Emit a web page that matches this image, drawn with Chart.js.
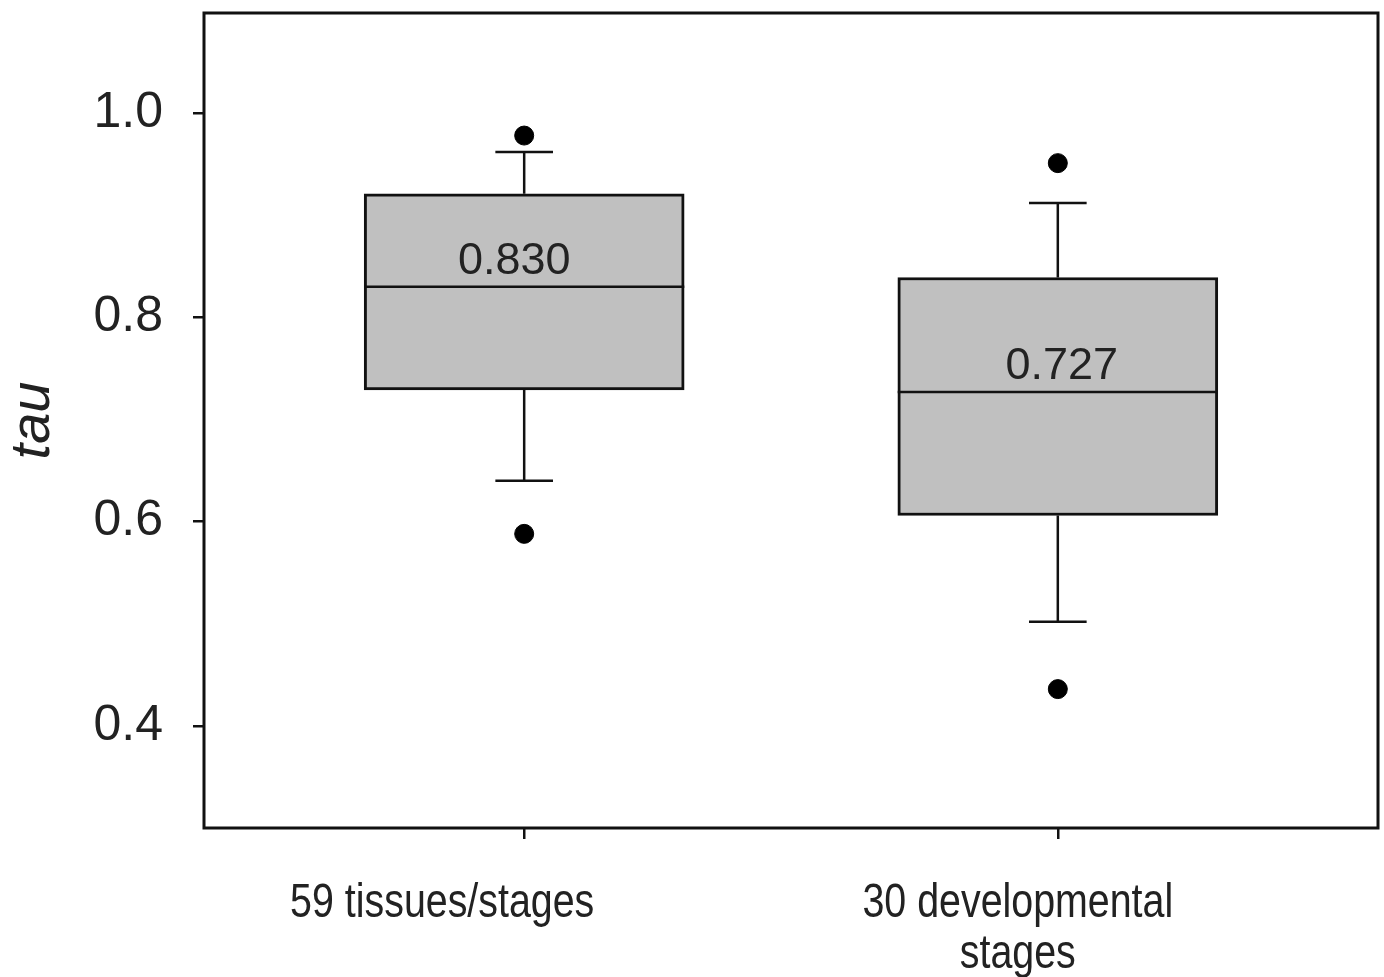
<!DOCTYPE html>
<html>
<head>
<meta charset="utf-8">
<script src="https://cdn.jsdelivr.net/npm/chart.js@4/dist/chart.umd.min.js"></script>
<style>
  html, body { margin: 0; padding: 0; background: #fff; }
  canvas { display: block; }
</style>
</head>
<body>
<canvas id="tauChart" width="1384" height="977"></canvas>
<script>
// ---- data ----
const categories = [['59 tissues/stages'], ['30 developmental', 'stages']];
const whiskerLow = [0.640, 0.502];
const q1 = [0.729, 0.606];
const medians = [0.830, 0.727];
const q3 = [0.921, 0.839];
const whiskerHigh = [0.962, 0.912];
const outliers = [[0.978, 0.588], [0.951, 0.436]];
const yTicks = [0.4, 0.6, 0.8, 1.0];

// ---- look ----
const INK = '#111';
const TEXT = '#222';
const BOX_FILL = '#c0c0c0';
const BOX_HALF = 0.3;     // half box width, x units
const CAP_HALF = 0.054;   // half whisker cap width, x units
const LABEL_SHIFT = [-82, -40];      // category labels sit left of their tick in the original
const MEDIAN_TEXT_SHIFT = [-10, 4];  // median value text is not quite centred either
const LABEL_SQUEEZE = 0.82;          // original category text is drawn narrow

const boxes = categories.map((_, i) => ({ x: i, y: [q1[i], q3[i]] }));

const whiskers = [];
categories.forEach((_, i) => {
  whiskers.push({ x: i, y: q3[i] }, { x: i, y: whiskerHigh[i] }, { x: i, y: null });
  whiskers.push({ x: i - CAP_HALF, y: whiskerHigh[i] }, { x: i + CAP_HALF, y: whiskerHigh[i] }, { x: i, y: null });
  whiskers.push({ x: i, y: q1[i] }, { x: i, y: whiskerLow[i] }, { x: i, y: null });
  whiskers.push({ x: i - CAP_HALF, y: whiskerLow[i] }, { x: i + CAP_HALF, y: whiskerLow[i] }, { x: i, y: null });
});

const medianLines = [];
categories.forEach((_, i) => {
  medianLines.push({ x: i - BOX_HALF, y: medians[i] }, { x: i + BOX_HALF, y: medians[i] }, { x: i, y: null });
});

const outlierPts = [];
outliers.forEach((arr, i) => arr.forEach((v) => outlierPts.push({ x: i, y: v })));

// frame round the plot, median values, category labels
const decorations = {
  id: 'decorations',
  afterDatasetsDraw(chart) {
    const { ctx, chartArea: a, scales: { x, y } } = chart;
    ctx.save();
    ctx.strokeStyle = INK;
    ctx.lineWidth = 3;
    ctx.strokeRect(a.left, a.top, a.right - a.left, a.bottom - a.top);

    ctx.fillStyle = TEXT;
    ctx.textAlign = 'center';
    ctx.textBaseline = 'alphabetic';
    ctx.font = "45px 'Liberation Sans', Arial, sans-serif";
    medians.forEach((m, i) => {
      ctx.fillText(m.toFixed(3), x.getPixelForValue(i) + MEDIAN_TEXT_SHIFT[i], y.getPixelForValue(m) - 13);
    });

    ctx.font = "48px 'Liberation Sans', Arial, sans-serif";
    categories.forEach((lines, i) => {
      const cx = x.getPixelForValue(i) + LABEL_SHIFT[i];
      lines.forEach((line, k) => {
        ctx.save();
        ctx.translate(cx, a.bottom + 89 + k * 51);
        ctx.scale(LABEL_SQUEEZE, 1);
        ctx.fillText(line, 0, 0);
        ctx.restore();
      });
    });
    ctx.restore();
  }
};

new Chart(document.getElementById('tauChart'), {
  type: 'bar',
  data: {
    datasets: [
      { type: 'bar', data: boxes, backgroundColor: BOX_FILL, borderColor: INK, borderWidth: 3,
        borderSkipped: false, barThickness: 320, order: 3 },
      { type: 'line', data: whiskers, borderColor: INK, borderWidth: 2.5, pointRadius: 0,
        spanGaps: false, fill: false, order: 2 },
      { type: 'line', data: medianLines, borderColor: INK, borderWidth: 2.5, pointRadius: 0,
        spanGaps: false, fill: false, order: 2 },
      { type: 'scatter', data: outlierPts, backgroundColor: '#000', borderColor: '#000',
        pointRadius: 9.5, pointHoverRadius: 9.5, order: 1 },
    ],
  },
  options: {
    responsive: false,
    animation: false,
    layout: { autoPadding: false, padding: { top: 13, right: 6, left: 0, bottom: 0 } },
    plugins: { legend: { display: false }, tooltip: { enabled: false } },
    scales: {
      x: {
        type: 'linear', min: -0.6, max: 1.6, offset: false,
        afterBuildTicks: (s) => { s.ticks = categories.map((_, i) => ({ value: i })); },
        afterFit: (s) => { s.height = 149; s.paddingLeft = 0; s.paddingRight = 0; },
        ticks: { display: false },
        border: { display: false },
        grid: { display: true, offset: false, drawOnChartArea: false, drawTicks: true, tickLength: 11, color: INK, lineWidth: 2.5 },
      },
      y: {
        min: 0.3, max: 1.098,
        afterBuildTicks: (s) => { s.ticks = yTicks.map((v) => ({ value: v })); },
        afterFit: (s) => { s.width = 204; s.paddingTop = 0; s.paddingBottom = 0; },
        ticks: { color: TEXT, padding: 30, font: { family: "'Liberation Sans', Arial, sans-serif", size: 50 },
                 callback: (v) => Number(v).toFixed(1) },
        border: { display: false },
        grid: { display: true, drawOnChartArea: false, drawTicks: true, tickLength: 11, color: INK, lineWidth: 2.5 },
        title: { display: true, text: 'tau', color: TEXT, padding: { top: 0, bottom: 0 },
                 font: { family: "'Liberation Sans', Arial, sans-serif", size: 56, style: 'italic', lineHeight: 1.2 } },
      },
    },
  },
  plugins: [decorations],
});
</script>
</body>
</html>
